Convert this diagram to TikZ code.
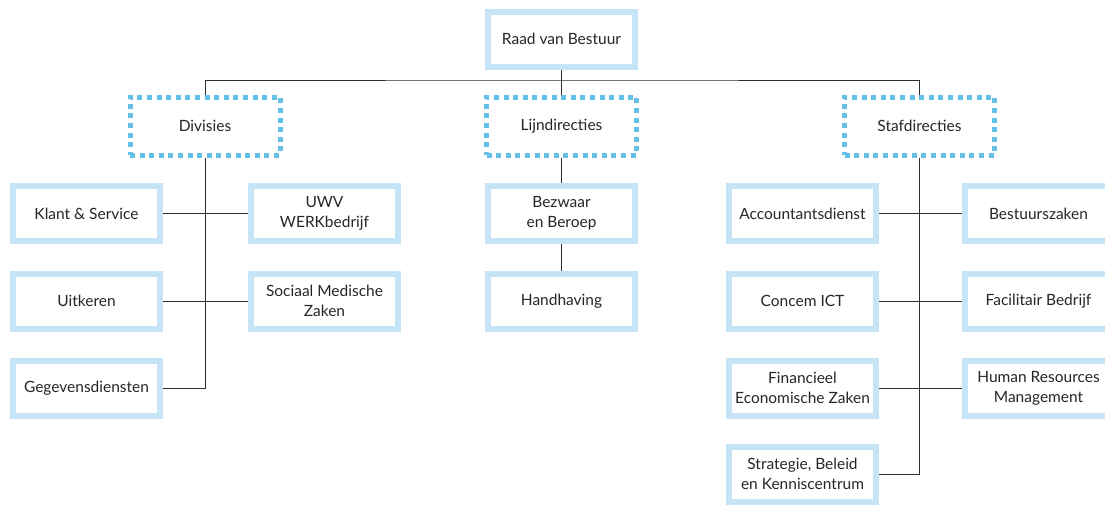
\documentclass[tikz,border=0pt]{standalone}
\usepackage{fontspec}
\setmainfont{Lato}
\usetikzlibrary{backgrounds}
\definecolor{unitblue}{RGB}{197,228,245}
\definecolor{groupblue}{RGB}{100,191,233}
\definecolor{linkgray}{RGB}{45,45,45}

\begin{document}
\begin{tikzpicture}[x=1pt,y=-1pt,font=\fontsize{15.5}{20}\selectfont,text=black!85,
  unit/.style={draw=unitblue,fill=white,line width=6pt,minimum width=147pt,minimum height=55pt,inner sep=0pt,align=center},
  group/.style={draw=groupblue,fill=white,line width=5pt,dash pattern=on 5pt off 4.6pt,minimum width=150pt,minimum height=58pt,inner sep=0pt},
  link/.style={draw=linkgray,line width=1pt}]
\useasboundingbox (0,0) rectangle (1105,504);
\clip (0,0) rectangle (1105,504);
\node[unit] (raad) at (561.5,39) {Raad van Bestuur};
\node[group] (div) at (205,126) {Divisies};
\node[group] (lijn) at (561.5,126) {Lijndirecties};
\node[group] (staf) at (919.5,126) {Stafdirecties};
% divisies
\node[unit] (klant) at (86.5,213.5) {Klant \& Service};
\node[unit] (uitkeren) at (86.5,301) {Uitkeren};
\node[unit] (gegevens) at (86.5,388) {Gegevensdiensten};
\node[unit] (uwv) at (324.5,213.5) {UWV\\WERKbedrijf};
\node[unit] (sociaal) at (324.5,301) {Sociaal Medische\\Zaken};
% lijndirecties
\node[unit] (bezwaar) at (561.5,213.5) {Bezwaar\\en Beroep};
\node[unit] (handhaving) at (561.5,301) {Handhaving};
% stafdirecties
\node[unit] (accounts) at (802.5,213.5) {Accountantsdienst};
\node[unit] (concern) at (802.5,301) {Concem ICT};
\node[unit] (financieel) at (802.5,388) {Financieel\\Economische Zaken};
\node[unit] (strategie) at (802.5,474) {Strategie, Beleid\\en Kenniscentrum};
\node[unit] (bestuur) at (1038.5,213.5) {Bestuurszaken};
\node[unit] (facilitair) at (1038.5,301) {Facilitair Bedrijf};
\node[unit] (hrm) at (1038.5,388) {Human Resources\\Management};
\coordinate (bus) at (561.5,80);
\begin{scope}[on background layer]
\draw[link] (raad) -- (bus);
\draw[link] (div) |- (bus) -| (staf);
\draw[link] (bus) -- (lijn);
\draw[link] (div) |- (gegevens);
\draw[link] (klant) -- (uwv);
\draw[link] (uitkeren) -- (sociaal);
\draw[link] (lijn) -- (bezwaar) -- (handhaving);
\draw[link] (staf) |- (strategie);
\draw[link] (accounts) -- (bestuur);
\draw[link] (concern) -- (facilitair);
\draw[link] (financieel) -- (hrm);
\end{scope}
\end{tikzpicture}
\end{document}
